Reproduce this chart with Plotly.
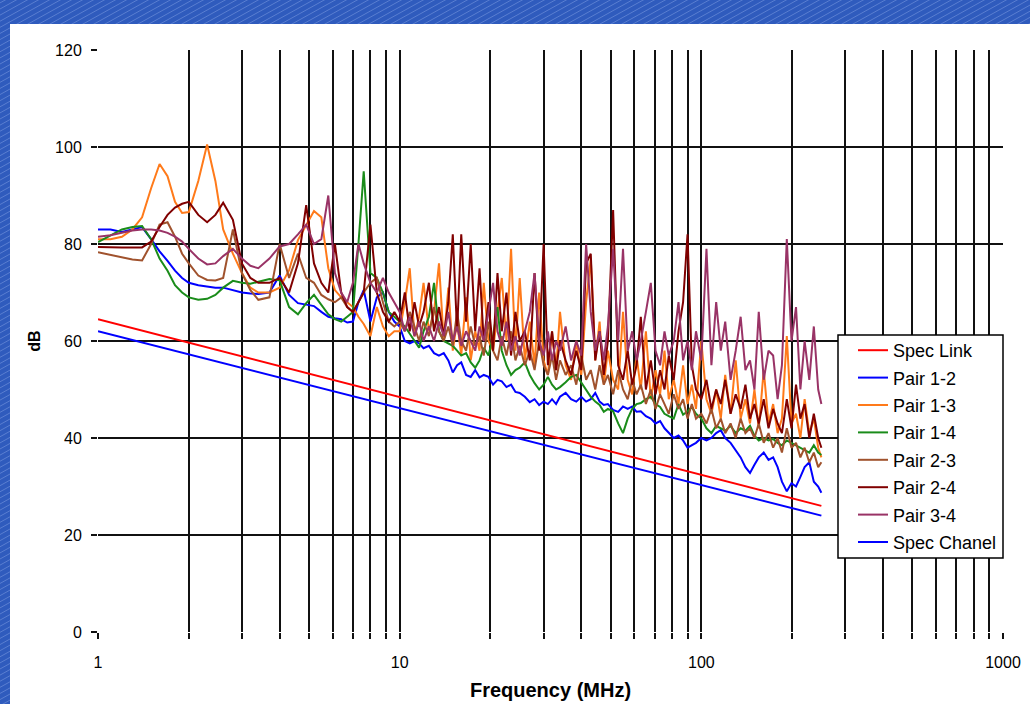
import plotly.graph_objects as go

# ---------------- data ----------------
freq_spec = [1, 10, 100, 250]
spec_link = [64.5, 48.45, 32.4, 26.0]
spec_chanel = [62.0, 46.15, 30.3, 24.0]

freq_low = [1, 1.1, 1.2, 1.3, 1.4, 1.5, 1.6, 1.7, 1.8, 1.9, 2.0, 2.15, 2.3, 2.45, 2.6, 2.8,
            3.0, 3.2, 3.4, 3.7, 4.0, 4.3, 4.6, 4.9, 5.2, 5.5, 5.8, 6.1, 6.4, 6.7, 7.0, 7.3,
            7.6, 8.0, 8.4, 8.8, 9.2, 9.6]
freq_high = [10, 10.4, 10.8, 11.2, 11.6, 12, 12.5, 13, 13.5, 14, 14.5, 15, 15.5, 16, 16.6,
             17.2, 17.8, 18.4, 19, 19.7, 20.4, 21.1, 21.8, 22.6, 23.4, 24.2, 25, 26, 27, 28,
             29, 30, 31, 32, 33, 34, 35.5, 37, 38.5, 40, 41.5, 43, 44.5, 46, 47.5, 49, 51, 53,
             55, 57, 59, 61, 63, 65.5, 68, 70.5, 73, 75.5, 78, 81, 84, 87, 90, 93, 96, 100,
             104, 108, 112, 116, 120, 125, 130, 135, 140, 145, 150, 155, 161, 167, 173, 179,
             185, 192, 199, 206, 213, 220, 228, 236, 244, 250]
freq = freq_low + freq_high

pair_12 = [83, 83, 82.5, 83, 83.5, 81, 78.5, 76.5, 74.5, 73, 72, 71.5, 71.3, 71, 71, 70.5,
           70, 69.8, 69.7, 70, 73.5, 69.5, 67.8, 67.5, 67.2, 66, 65, 64.7, 64.5, 63.8, 64, 68,
           70.5, 64, 69, 70, 66, 64,
           63, 60, 59.5, 60, 59.5, 58.5, 59, 57.5, 57, 57.5, 56, 53.5, 55, 55.6, 53,
           52.6, 54, 52.5, 53, 52.6, 51, 52, 51.7, 50.5, 51, 49.5, 49.3, 48.5, 47.4, 48,
           46.8, 47.5, 47, 48, 47, 48.5, 49.3, 48, 47.5, 48.5, 47.5, 48, 49.3, 47.5, 46.8, 47, 45.8, 45.4,
           46.5, 46, 46.5, 45.4, 45.5, 44.5, 44, 43, 43.5, 42, 41, 40, 40.5, 39.5, 38, 38.5, 39, 40,
           39.5, 40, 41, 41.6, 40, 39, 37.5, 36, 34, 32.8, 34.5, 36, 37, 35.5, 36, 34,
           31, 29, 30.7, 30, 32, 34, 35, 31, 30, 28.7]

pair_13 = [81, 81, 81.5, 83, 85.5, 91.5, 96.5, 94, 88.7, 86.4, 86.6, 93, 100.5, 93, 83, 78,
           74, 71, 70, 70, 71, 74.6, 80.8, 84, 86.8, 85.5, 75, 70.5, 69, 68, 67, 65,
           63.5, 61, 67, 63, 61, 62,
           62, 68, 75, 61, 65, 72, 62, 66, 76, 60, 71, 58, 64, 57, 69,
           56, 62, 58, 72, 60, 58, 66, 73, 60, 79, 58, 73, 56, 64, 55,
           70, 56, 53, 62, 54, 66, 55, 52, 60, 53, 68, 77, 56, 64, 51, 58, 52, 50,
           66, 52, 49, 57, 50, 62, 48, 54, 49, 58, 48, 52, 47, 55, 47, 51, 46, 60,
           48, 45, 50, 44, 53, 45, 56, 44, 48, 43, 50, 42, 54, 43, 47, 41,
           44, 61, 43, 45, 40, 48, 41, 44, 38, 36]

pair_14 = [80.4, 81.8, 83, 83.5, 83.7, 81, 77, 74.5, 71.5, 70, 69, 68.5, 68.7, 69.5, 71, 72.4,
           72, 71.8, 72.2, 72.8, 72.5, 67, 65.5, 67.8, 69.5, 67.5, 65.5, 64.5, 64, 65, 66, 80,
           95, 74, 73, 70, 66, 65,
           64, 63, 61.5, 60, 58.6, 62, 65, 72, 62, 60, 59.5, 59, 58, 57, 57.5,
           55.6, 54.5, 56, 58.6, 57, 61, 67, 58, 55, 53, 54, 54.5, 55.6, 53, 51.3,
           50, 51, 52.6, 51, 50, 50.5, 51.5, 52.6, 53, 51.5, 50, 48.5, 47.5, 46.8, 45.4, 46, 45.5, 43,
           41, 44, 46, 47, 47.2, 48, 48.5, 47, 46.4, 45, 44.5, 44, 47, 44.8, 45.5, 46.4, 45, 44,
           42, 41, 42.5, 42, 41.5, 42.5, 41, 42, 41.5, 42.5, 40.5, 39.5, 40, 39.5, 39.8, 39,
           38.5, 39.5, 39, 38.5, 38, 37.5, 37, 38.5, 37, 36.5]

pair_23 = [78.3, 77.7, 77.2, 76.8, 76.6, 80, 84, 84.5, 81.5, 78, 76, 73.5, 72.6, 72.5, 73, 83,
           74, 70.5, 68.5, 69, 80, 73, 78, 73, 72, 69.5, 68.6, 68, 69, 67, 66, 68,
           70, 72, 73, 68, 64, 63,
           64, 62, 66, 63, 60, 64, 61, 67, 62, 60, 63, 59, 66, 60, 58,
           63, 59, 61, 57, 64, 58, 56, 61, 57, 62, 56, 59, 55, 58, 54,
           60, 55, 53, 57, 52, 56, 53, 55, 51, 57, 52, 54, 50, 55, 51, 53, 49, 54,
           50, 48, 52, 49, 51, 47, 50, 46, 49, 47, 45, 49, 46, 48, 44, 47, 44, 45,
           43, 46, 42, 44, 41, 43, 40, 44, 41, 42, 40, 43, 39, 41, 38, 40,
           37, 42, 38, 39, 36, 38, 35, 37, 34, 35]

pair_24 = [79.4, 79.3, 79.3, 79.3, 79.3, 80.5, 83.5, 86, 87.5, 88.3, 88.7, 86, 84.5, 86, 88.5, 85,
           76, 73, 72, 72, 73, 70, 76, 88, 76, 72, 70, 80, 70, 67, 66, 68,
           70, 84, 70, 66, 64, 66,
           64, 70, 62, 68, 63, 66, 72, 62, 67, 61, 68, 82, 62, 82, 64,
           80, 62, 75, 60, 68, 58, 74, 62, 70, 57, 66, 60, 62, 56, 74,
           58, 80, 55, 62, 54, 60, 56, 53, 58, 54, 76, 78, 56, 62, 53, 60, 87, 55,
           52, 58, 51, 55, 65, 50, 56, 49, 54, 50, 57, 52, 62, 68, 82, 55, 50, 48,
           52, 46, 50, 47, 52, 45, 49, 46, 51, 44, 47, 43, 48, 42, 46, 43,
           41, 48, 42, 51, 44, 47, 40, 45, 40, 38]

pair_34 = [81.5, 81.8, 82.3, 82.8, 83, 83, 82.8, 82.3, 81.5, 80.5, 79, 77, 75.8, 76, 77.5, 79,
           77, 75.5, 75, 77, 79.5, 80, 82, 84, 80, 81, 90, 74, 70, 68, 72, 80,
           76, 72, 70, 73, 70, 68,
           66, 62, 65, 61, 64, 60, 63, 60, 64, 61, 66, 60, 63, 59, 62,
           60, 58, 63, 60, 66, 72, 62, 59, 64, 58, 61, 57, 62, 66, 74,
           60, 57, 62, 56, 60, 58, 63, 56, 60, 57, 80, 66, 58, 62, 56, 63, 79, 60,
           79, 58, 62, 56, 60, 66, 72, 58, 55, 62, 57, 60, 68, 56, 60, 54, 62, 56,
           79, 55, 68, 58, 64, 52, 58, 65, 54, 56, 50, 66, 52, 58, 57, 48,
           55, 81, 60, 67, 50, 60, 52, 63, 50, 47]

series = [
    ("Spec Link", freq_spec, spec_link, "#FF0000"),
    ("Pair 1-2", freq, pair_12, "#0000FF"),
    ("Pair 1-3", freq, pair_13, "#FF7A1A"),
    ("Pair 1-4", freq, pair_14, "#1A8C1A"),
    ("Pair 2-3", freq, pair_23, "#A0522D"),
    ("Pair 2-4", freq, pair_24, "#800000"),
    ("Pair 3-4", freq, pair_34, "#993366"),
    ("Spec Chanel", freq_spec, spec_chanel, "#0000FF"),
]

x_tick_vals = [m * 10 ** d for d in range(3) for m in range(1, 10)] + [1000]
x_tick_text = [str(v) if v in (1, 10, 100, 1000) else "" for v in x_tick_vals]

# ---------------- figure ----------------
fig = go.Figure()
for name, xs, ys, color in series:
    fig.add_trace(go.Scatter(x=xs, y=ys, mode="lines", name=name, legendgroup=name,
                             line=dict(color=color, width=2)))

W, H = 1030, 704
L, R, T, B = 98, 27, 50, 72
pw, ph = W - L - R, H - T - B


def px2paper_x(px):
    return (px - L) / pw


def py2paper_y(py):
    return (H - B - py) / ph


shapes = []
# faint diagonal hatching on the blue backdrop
for c in range(-1500, W + 20, 11):
    shapes.append(dict(type="line", xref="paper", yref="paper", layer="below",
                       x0=px2paper_x(c), y0=py2paper_y(H + 10),
                       x1=px2paper_x(c + 1.8 * (H + 20)), y1=py2paper_y(-10),
                       line=dict(color="rgba(190,210,255,0.3)", width=1)))
# white sheet over the blue backdrop
shapes.append(dict(type="rect", xref="paper", yref="paper", layer="below",
                   x0=px2paper_x(10), x1=px2paper_x(W + 5), y0=py2paper_y(H + 5), y1=py2paper_y(24),
                   fillcolor="white", line=dict(width=0)))
# legend frame
shapes.append(dict(type="rect", xref="paper", yref="paper", layer="above",
                   x0=px2paper_x(838), x1=px2paper_x(1003), y0=py2paper_y(558), y1=py2paper_y(335),
                   fillcolor="white", line=dict(color="black", width=1.5)))

fig.update_layout(
    width=W, height=H,
    margin=dict(l=L, r=R, t=T, b=B),
    paper_bgcolor="#2F5BBD",
    plot_bgcolor="white",
    font=dict(family="Liberation Sans, Arial, sans-serif", color="black", size=16),
    shapes=shapes,
    showlegend=True,
    legend=dict(x=px2paper_x(853), y=py2paper_y(332), xanchor="left", yanchor="top",
                bgcolor="rgba(0,0,0,0)", borderwidth=0,
                traceorder="grouped", tracegroupgap=1,
                font=dict(size=18, family="Liberation Sans, Arial, sans-serif")),
    xaxis=dict(type="log", range=[0, 3], tickvals=x_tick_vals, ticktext=x_tick_text,
               automargin=False,
               showgrid=True, gridcolor="#111111", gridwidth=2,
               ticks="outside", ticklen=6, tickwidth=2, tickcolor="#111111",
               ticklabelstandoff=10,
               showline=False, zeroline=False,
               tickfont=dict(size=16),
               title=dict(text="<b>Frequency (MHz)</b>", font=dict(size=20), standoff=12)),
    yaxis=dict(range=[0, 120], dtick=20, tick0=0,
               automargin=False,
               showgrid=True, gridcolor="#111111", gridwidth=2,
               ticks="outside", ticklen=6, tickwidth=2, tickcolor="#111111",
               ticklabelstandoff=6,
               showline=False, zeroline=False,
               tickfont=dict(size=16),
               title=dict(text="<b>dB</b>", font=dict(size=16), standoff=10)),
)

fig.write_html("out.html", config={"displayModeBar": False},
               post_script="document.body.style.margin='0';")
